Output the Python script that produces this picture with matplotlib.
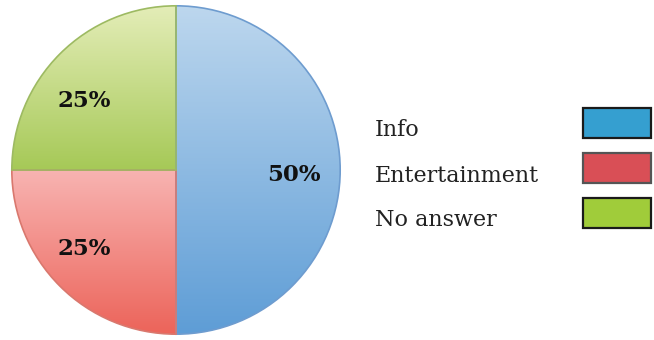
import numpy as np
import matplotlib.pyplot as plt
from matplotlib.colors import to_rgb
from matplotlib.patches import Rectangle

labels = ['Info', 'Entertainment', 'No answer']
shares = [50, 25, 25]
grad_top = ['#BDD7EE', '#F8B4B2', '#E4EDB8']
grad_bottom = ['#5E9DD6', '#EC645A', '#A6C957']
edge_cols = ['#6E9CCF', '#D9786E', '#9DBA62']
legend_cols = ['#359FD0', '#D94F56', '#A0CC3A']
legend_edges = ['#1A1A1A', '#555555', '#1A1A1A']

W, H = 654, 340
fig = plt.figure(figsize=(W / 100, H / 100), dpi=100)

# pie area in pixel box
ax = fig.add_axes([11 / W, 5 / H, 330 / W, 330 / H])
wedges, texts, autotexts = ax.pie(
    shares, startangle=90, counterclock=False, radius=1,
    autopct='%d%%', pctdistance=0.72,
    textprops=dict(family='DejaVu Serif', fontweight='bold', fontsize=16.5, color='#111111'))
ax.set_xlim(-1.005, 1.005)
ax.set_ylim(-1.005, 1.005)
ax.set_aspect('equal')
ax.axis('off')

# vertical gradient inside each wedge
for i, w in enumerate(wedges):
    w.set_facecolor('none')
    w.set_edgecolor(edge_cols[i])
    w.set_linewidth(1.2)
    w.set_zorder(3)
    path = w.get_path()
    verts = w.get_transform().transform(path.vertices)
    verts = ax.transData.inverted().transform(verts)
    y0, y1 = verts[:, 1].min(), verts[:, 1].max()
    t = np.linspace(0, 1, 256)[:, None]
    top = np.array(to_rgb(grad_top[i]))
    bot = np.array(to_rgb(grad_bottom[i]))
    img = (1 - t)[:, :, None] * top + t[:, :, None] * bot
    img = np.repeat(img, 2, axis=1)
    im = ax.imshow(img, extent=[-1, 1, y0, y1], origin='upper', aspect='auto', zorder=2)
    im.set_clip_path(w)

# labels sit a little closer to the horizontal than the wedge mid-angle
for t in autotexts:
    x, y = t.get_position()
    r = np.hypot(x, y)
    ang = np.arctan2(y, x)
    if abs(ang) > np.pi / 2:
        ang = np.sign(ang) * (np.pi - (np.pi - abs(ang)) * 0.86)
    t.set_position((r * np.cos(ang), r * np.sin(ang) - 0.03))
    t.set_zorder(5)

# legend drawn by hand: text left, swatch right
rows_y = [122.5, 168, 212.5]
for i, lab in enumerate(labels):
    yc = rows_y[i]
    fig.text(375 / W, 1 - (yc + 8) / H, lab, family='DejaVu Serif', fontsize=16,
             color='#222222', ha='left', va='center')
    fig.add_artist(Rectangle((583 / W, 1 - (yc + 15) / H), 68 / W, 30 / H,
                             transform=fig.transFigure, facecolor=legend_cols[i],
                             edgecolor=legend_edges[i], linewidth=1.6))

fig.savefig('out.png', dpi=100, facecolor='white')
